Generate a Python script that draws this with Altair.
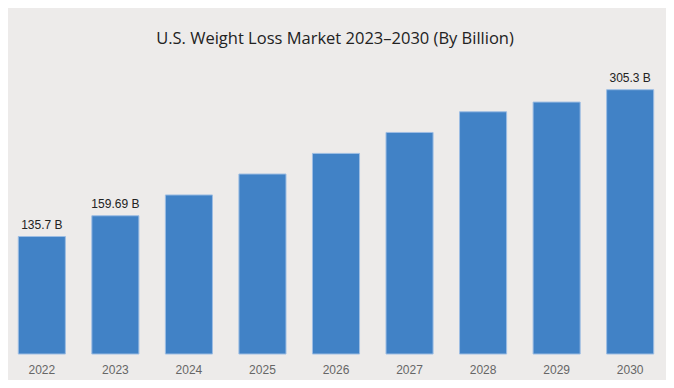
import altair as alt
import pandas as pd

years = ["2022", "2023", "2024", "2025", "2026", "2027", "2028", "2029", "2030"]
values = [135.7, 159.69, 183.7, 207.9, 231.7, 255.9, 279.8, 291.0, 305.3]
labels = ["135.7 B", "159.69 B", "", "", "", "", "", "", "305.3 B"]
title_text = "U.S. Weight Loss Market 2023\u20132030 (By Billion)"

df = pd.DataFrame({"year": years, "value": values, "label": labels})

W, H = 656, 303

x = alt.X("year:N", sort=years, title=None,
          scale=alt.Scale(paddingInner=0.36, paddingOuter=0.14),
          axis=alt.Axis(labelAngle=0, domain=False, ticks=False, labelPadding=10,
                        labelFont="Liberation Sans", labelFontSize=12, labelColor="#666666"))
y = alt.Y("value:Q", title=None, scale=alt.Scale(domain=[0, 350], nice=False),
          axis=None)

bars = alt.Chart(df).mark_bar(color="#4182c6", stroke="#9dbde3", strokeWidth=1).encode(x=x, y=y)

text = alt.Chart(df).mark_text(dy=-12, font="Liberation Sans", fontSize=12, color="#222222").encode(
    x=x, y=y, text="label:N")

title = alt.Chart(pd.DataFrame({"t": [title_text]})).mark_text(
    font="Open Sans", fontSize=16.5, color="#222222", baseline="middle", align="center"
).encode(x=alt.value(W / 2 - 1), y=alt.value(-12), text="t:N")

chart = alt.layer(bars, text, title).properties(
    width=W, height=H,
    autosize=alt.AutoSizeParams(type="none"),
    padding={"left": 0, "top": 43, "right": 2, "bottom": 26},
    background="#edebea",
).configure_view(stroke=None)

chart.save("out.html", embed_options={"renderer": "svg", "actions": False})
